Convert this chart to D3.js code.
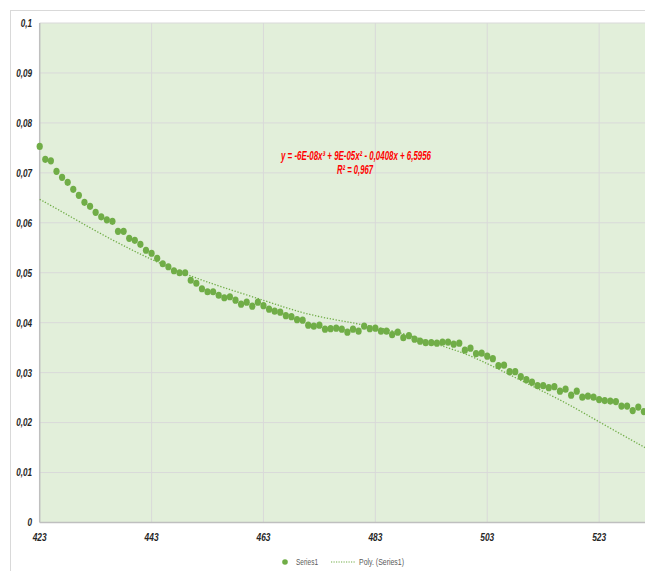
<!DOCTYPE html>
<html><head><meta charset="utf-8">
<script src="https://cdn.jsdelivr.net/npm/d3@7"></script>
<style>
html,body{margin:0;padding:0;background:#fff;overflow:hidden}
svg{display:block}
</style></head>
<body>
<svg id="chart" width="645" height="571"></svg>
<script>
// ---- data ----
const xStart = 423;
const seriesValues = [
  0.0753,0.0727,0.0724,0.0703,0.0691,0.0681,0.0667,0.0655,0.0641,0.0633,
  0.0621,0.0612,0.0606,0.0603,0.0583,0.0583,0.0569,0.0565,0.0557,0.0545,
  0.0539,0.0529,0.0518,0.0512,0.0504,0.0500,0.0500,0.0485,0.0479,0.0468,
  0.0462,0.0462,0.0455,0.0450,0.0452,0.0445,0.0437,0.0441,0.0433,0.0441,
  0.0434,0.0427,0.0423,0.0421,0.0414,0.0412,0.0406,0.0405,0.0395,0.0393,
  0.0395,0.0387,0.0388,0.0389,0.0387,0.0381,0.0387,0.0383,0.0393,0.0388,
  0.0389,0.0383,0.0383,0.0376,0.0381,0.0370,0.0374,0.0367,0.0363,0.0360,
  0.0360,0.0359,0.0361,0.0361,0.0357,0.0359,0.0345,0.0349,0.0338,0.0339,
  0.0333,0.0328,0.0314,0.0315,0.0302,0.0302,0.0292,0.0286,0.0281,0.0274,
  0.0274,0.0270,0.0272,0.0263,0.0267,0.0255,0.0263,0.0251,0.0253,0.0251,
  0.0246,0.0244,0.0243,0.0242,0.0233,0.0233,0.0224,0.0231,0.0222
];
const xValues = seriesValues.map((v,i)=>xStart+i);
// polynomial trendline
const trendX = [423,427.2,433.2,439.2,443.8,449.5,455.6,463.6,469.6,475.6,480.9,487.5,493.5,498.6,503.1,511.4,517.4,523.5,531.2];
const trendY = [0.0647,0.0621,0.0582,0.0547,0.0522,0.0495,0.0471,0.0443,0.0420,0.0406,0.0396,0.0381,0.0358,0.0341,0.0318,0.0271,0.0238,0.0198,0.0150];
const xTicks = [423,443,463,483,503,523];
const yTicks = [0,0.01,0.02,0.03,0.04,0.05,0.06,0.07,0.08,0.09,0.1];
const seriesName = "Series1";
const trendName = "Poly. (Series1)";
const equationText = "y = -6E-08x³ + 9E-05x² - 0,0408x + 6,5956";
const r2Text = "R² = 0,967";

// ---- layout ----
const svg = d3.select("#chart");
const L = 39.7, R = 645, T = 23, B = 522.5;
const x = d3.scaleLinear().domain([423, 531.2]).range([L, R]);
const y = d3.scaleLinear().domain([0, 0.1]).range([B, T]);
const fontFam = "'Liberation Sans',Arial,sans-serif";
const green = "#70AD47";

function condense(sel, f){
  sel.each(function(){
    const w = this.getComputedTextLength();
    d3.select(this).attr("textLength", w*f).attr("lengthAdjust","spacingAndGlyphs");
  });
}

// outer chart border
svg.append("rect").attr("x",10.5).attr("y",10.5).attr("width",700).attr("height",700)
  .attr("fill","#fff").attr("stroke","#d9d9d9");

// plot area
svg.append("rect").attr("x",L).attr("y",T).attr("width",R-L+10).attr("height",B-T)
  .attr("fill","#e2efda");

// gridlines
svg.append("g").selectAll("line").data(yTicks.filter(d=>d>0)).join("line")
  .attr("x1",L).attr("x2",R+10).attr("y1",d=>y(d)).attr("y2",d=>y(d))
  .attr("stroke","#d9d9d9").attr("stroke-width",1);
svg.append("g").selectAll("line").data(xTicks.filter(d=>d>423)).join("line")
  .attr("y1",T).attr("y2",B).attr("x1",d=>x(d)).attr("x2",d=>x(d))
  .attr("stroke","#d9d9d9").attr("stroke-width",1);

// axes lines
svg.append("line").attr("x1",L).attr("x2",L).attr("y1",T).attr("y2",B)
  .attr("stroke","#bfbfbf").attr("stroke-width",1.5);
svg.append("line").attr("x1",L).attr("x2",R+10).attr("y1",B).attr("y2",B)
  .attr("stroke","#bfbfbf").attr("stroke-width",1.5);

// y tick labels
svg.append("g").selectAll("text").data(yTicks).join("text")
  .attr("x",32).attr("y",d=>y(d)).attr("dy","0.35em")
  .attr("text-anchor","end").attr("font-family",fontFam)
  .attr("font-size",11).attr("font-weight","bold").attr("font-style","italic")
  .attr("fill","#262626")
  .text(d=>String(d).replace(".",","))
  .call(condense, 0.74);

// x tick labels
svg.append("g").selectAll("text").data(xTicks).join("text")
  .attr("x",d=>x(d)).attr("y",541).attr("text-anchor","middle")
  .attr("font-family",fontFam).attr("font-size",11)
  .attr("font-weight","bold").attr("font-style","italic").attr("fill","#262626")
  .text(d=>d)
  .call(condense, 0.76);

// trendline
svg.append("path").datum(trendX.map((d,i)=>[d,trendY[i]]))
  .attr("d", d3.line().curve(d3.curveBasis).x(d=>x(d[0])).y(d=>y(d[1])))
  .attr("fill","none").attr("stroke",green).attr("stroke-width",1.3)
  .attr("stroke-dasharray","1.3,1.7");

// points
svg.append("g").selectAll("ellipse").data(seriesValues).join("ellipse")
  .attr("cx",(d,i)=>x(xValues[i])).attr("cy",d=>y(d))
  .attr("rx",3.1).attr("ry",3.6).attr("fill",green);

// equation
const eq = svg.append("text").attr("text-anchor","middle")
  .attr("font-family",fontFam).attr("font-size",12.5)
  .attr("font-weight","bold").attr("font-style","italic").attr("fill","#ff0000");
eq.append("tspan").attr("x",356).attr("y",160).text(equationText)
  .attr("textLength",150).attr("lengthAdjust","spacingAndGlyphs");
eq.append("tspan").attr("x",355).attr("y",173.5).text(r2Text)
  .attr("textLength",36).attr("lengthAdjust","spacingAndGlyphs");

// legend
const lg = svg.append("g");
lg.append("circle").attr("cx",285).attr("cy",562).attr("r",2.8).attr("fill",green);
lg.append("text").attr("x",296).attr("y",565).attr("font-family",fontFam)
  .attr("font-size",9.5).attr("fill","#595959").text(seriesName)
  .attr("textLength",22).attr("lengthAdjust","spacingAndGlyphs");
lg.append("line").attr("x1",331).attr("x2",356).attr("y1",562).attr("y2",562)
  .attr("stroke",green).attr("stroke-width",1.2).attr("stroke-dasharray","1.2,1.3");
lg.append("text").attr("x",359).attr("y",565).attr("font-family",fontFam)
  .attr("font-size",9.5).attr("fill","#595959").text(trendName)
  .attr("textLength",45).attr("lengthAdjust","spacingAndGlyphs");
</script>
</body></html>
